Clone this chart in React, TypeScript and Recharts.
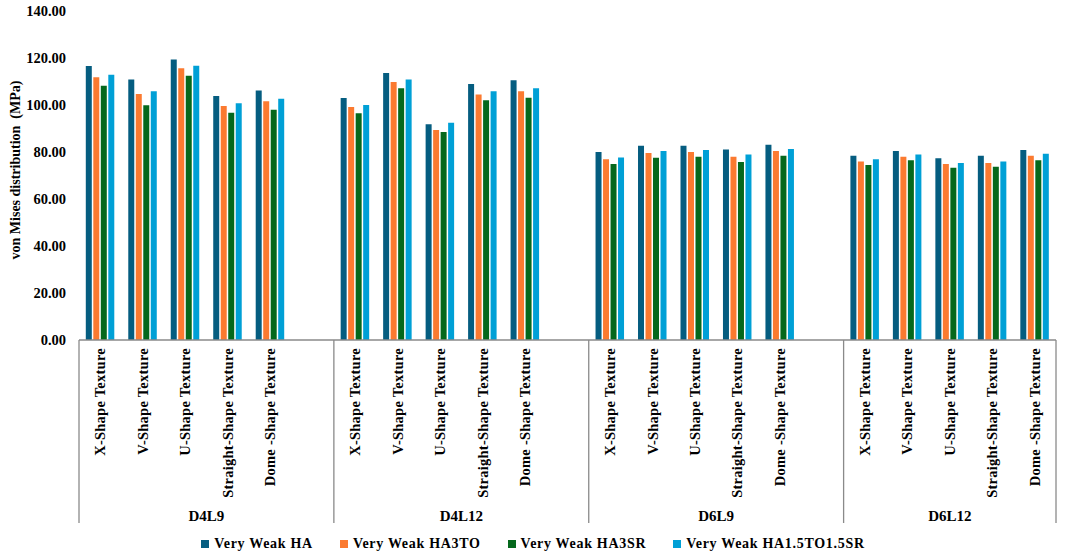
import { Bar, BarChart, Legend, XAxis, YAxis } from "recharts";

// von Mises stress (MPa) per texture
const GROUPS = ["D4L9", "D4L12", "D6L9", "D6L12"];
const TEXTURES = [
  "X-Shape Texture",
  "V-Shape Texture",
  "U-Shape Texture",
  "Straight-Shape Texture",
  "Dome -Shape Texture",
];

// each array: 5 textures x 4 groups, in GROUPS order
const VERY_WEAK_HA = [
  116.6, 110.9, 119.4, 103.8, 106.2,
  103.0, 113.6, 91.8, 108.9, 110.5,
  80.0, 82.7, 82.7, 81.1, 83.1,
  78.4, 80.4, 77.3, 78.4, 80.9,
];
const VERY_WEAK_HA3TO = [
  111.8, 104.7, 115.6, 99.6, 101.6,
  99.1, 109.8, 89.4, 104.5, 105.8,
  76.9, 79.6, 80.0, 78.0, 80.4,
  76.0, 78.0, 74.9, 75.3, 78.4,
];
const VERY_WEAK_HA3SR = [
  108.2, 99.9, 112.5, 96.7, 98.0,
  96.5, 107.1, 88.5, 102.0, 103.1,
  74.9, 77.6, 78.0, 75.7, 78.4,
  74.5, 76.5, 73.3, 73.7, 76.5,
];
const VERY_WEAK_HA15 = [
  112.9, 105.8, 116.7, 100.7, 102.7,
  100.0, 110.9, 92.5, 105.8, 107.1,
  77.7, 80.4, 80.9, 78.9, 81.3,
  76.9, 78.9, 75.3, 76.0, 79.3,
];

const Y_TICKS = [0, 20, 40, 60, 80, 100, 120, 140];

const SERIES = [
  { key: "ha", name: "Very Weak HA", color: "#055d80" },
  { key: "ha3to", name: "Very Weak HA3TO", color: "#fb7a30" },
  { key: "ha3sr", name: "Very Weak HA3SR", color: "#05681c" },
  { key: "ha15", name: "Very Weak HA1.5TO1.5SR", color: "#00a0d6" },
];

type Row = {
  slot: number;
  cat: string;
  group: string;
  ha: number | null;
  ha3to: number | null;
  ha3sr: number | null;
  ha15: number | null;
};

// one empty slot after every group except the last, like the source chart
const DATA: Row[] = [];
GROUPS.forEach((g, gi) => {
  TEXTURES.forEach((t, ti) => {
    const i = gi * TEXTURES.length + ti;
    DATA.push({
      slot: DATA.length,
      cat: t,
      group: g,
      ha: VERY_WEAK_HA[i],
      ha3to: VERY_WEAK_HA3TO[i],
      ha3sr: VERY_WEAK_HA3SR[i],
      ha15: VERY_WEAK_HA15[i],
    });
  });
  if (gi < GROUPS.length - 1) {
    DATA.push({ slot: DATA.length, cat: "", group: g, ha: null, ha3to: null, ha3sr: null, ha15: null });
  }
});

const W = 1065;
const H = 556;
const LEFT = 79;
const RIGHT = 9;
const SLOT = (W - LEFT - RIGHT) / DATA.length;
const FONT = "'Liberation Serif', 'Times New Roman', serif";
const AXIS_GREY = "#8a8a8a";

function CategoryTick(props: any) {
  const { x, y, payload } = props;
  const row = DATA[Number(payload.value)];
  if (!row) return null;
  const first = DATA.findIndex((r) => r.group === row.group);
  const span = DATA.filter((r) => r.group === row.group).length;
  const isFirst = first === row.slot;
  const isLast = row.slot === DATA.length - 1;
  return (
    <g>
      {row.cat && (
        <text
          transform={`translate(${x},${y + 8}) rotate(-90)`}
          textAnchor="end"
          dy="0.35em"
          fontFamily={FONT}
          fontWeight="bold"
          fontSize={14.5}
          letterSpacing={0.25}
          fill="#000"
        >
          {row.cat}
        </text>
      )}
      {isFirst && (
        <>
          <line x1={x - SLOT / 2} x2={x - SLOT / 2} y1={y} y2={y + 183} stroke={AXIS_GREY} strokeWidth={1.3} />
          <text
            x={x - SLOT / 2 + (span * SLOT) / 2}
            y={y + 181}
            textAnchor="middle"
            fontFamily={FONT}
            fontWeight="bold"
            fontSize={15}
            fill="#000"
          >
            {row.group}
          </text>
        </>
      )}
      {isLast && (
        <line x1={x + SLOT / 2} x2={x + SLOT / 2} y1={y} y2={y + 183} stroke={AXIS_GREY} strokeWidth={1.3} />
      )}
    </g>
  );
}

function LegendBox() {
  return (
    <div
      style={{
        height: 36,
        paddingTop: 12,
        boxSizing: "border-box",
        display: "flex",
        justifyContent: "center",
        gap: 27,
        paddingLeft: 10,
        fontFamily: FONT,
        fontWeight: "bold",
        fontSize: 14,
        letterSpacing: 0.7,
        lineHeight: "20px",
        color: "#000",
      }}
    >
      {SERIES.map((s) => (
        <div key={s.key} style={{ display: "flex", alignItems: "center" }}>
          <span style={{ width: 8, height: 8, background: s.color, marginRight: 5, display: "inline-block" }} />
          <span>{s.name}</span>
        </div>
      ))}
    </div>
  );
}

export default function App() {
  return (
    <div style={{ width: W, height: H, background: "#fff" }}>
      <style>{"body{margin:0}"}</style>
      <BarChart
        width={W}
        height={H}
        data={DATA}
        margin={{ top: 11, right: RIGHT, left: 0, bottom: 0 }}
        barCategoryGap="16%"
        barGap={1.5}
      >
        <XAxis
          dataKey="slot"
          type="category"
          interval={0}
          height={180}
          tickLine={false}
          tickSize={0}
          tickMargin={0}
          axisLine={{ stroke: AXIS_GREY, strokeWidth: 1.3 }}
          tick={<CategoryTick />}
        />
        <YAxis
          width={LEFT}
          domain={[0, 140]}
          ticks={Y_TICKS}
          tickFormatter={(v: number) => v.toFixed(2)}
          axisLine={false}
          tickLine={false}
          tickSize={0}
          tickMargin={13}
          tick={{ fontFamily: FONT, fontWeight: "bold", fontSize: 14.5, fill: "#000" }}
          label={{
            content: () => (
              <text
                transform="translate(20,170) rotate(-90)"
                textAnchor="middle"
                fontFamily={FONT}
                fontWeight="bold"
                fontSize={14}
                fill="#000"
                style={{ whiteSpace: "pre" }}
              >
                {"von Mises distribution  (MPa)"}
              </text>
            ),
          }}
        />
        <Legend verticalAlign="bottom" content={<LegendBox />} />
        {SERIES.map((s) => (
          <Bar key={s.key} dataKey={s.key} name={s.name} fill={s.color} isAnimationActive={false} />
        ))}
      </BarChart>
    </div>
  );
}
